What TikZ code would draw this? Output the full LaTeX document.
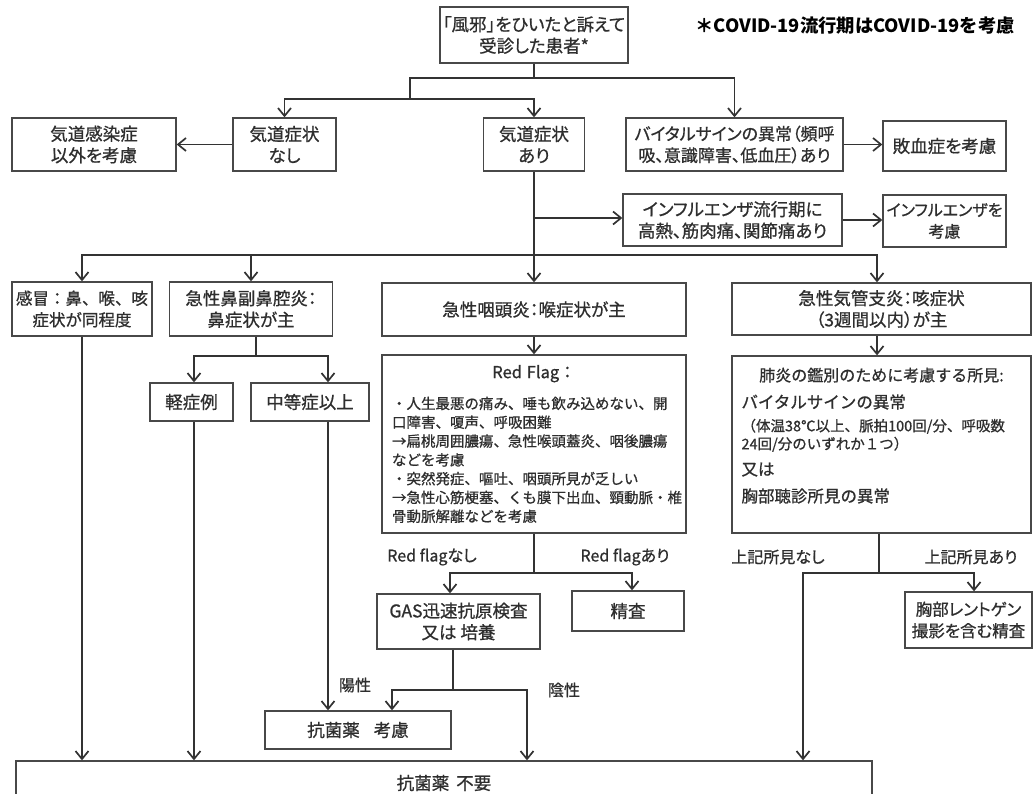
\documentclass[tikz,border=0pt]{standalone}
\usepackage{fontspec}
\setmainfont{Noto Sans CJK JP}[RawFeature=+palt, FakeBold=0.8]
\newfontfamily\jpf{Noto Sans CJK JP}[FakeBold=0.8]
\newfontfamily\notef{Noto Sans CJK JP}
\usetikzlibrary{arrows.meta}
\definecolor{ln}{HTML}{333333}
\definecolor{bd}{HTML}{484848}
\definecolor{tx}{HTML}{2E2E2E}
\tikzset{
  box/.style={draw=bd, line width=1.3pt, fill=white, align=center, inner sep=0pt,
    font=\fontsize{17.5}{21.5}\selectfont, text=tx},
  lbl/.style={font=\fontsize{16}{19}\selectfont, text=tx, inner sep=0pt},
}
\begin{document}
\begin{tikzpicture}[x=1pt, y=-1pt, line width=1.7pt, draw=ln,
  >={Straight Barb[length=8pt,width=13pt]}]
\useasboundingbox[fill=white] (0,0) rectangle (1033,794);

% nodes
\node[box, minimum width=188, minimum height=56] (top) at (534,35) {「風邪」をひいたと訴えて\\受診した患者*};
\node[font=\notef\bfseries\fontsize{18.3}{20}\selectfont, text=black, inner sep=0pt] (note) at (855,26) {＊COVID-19流行期はCOVID-19を考慮};

\node[box, minimum width=164, minimum height=53] (other) at (94,144.5) {気道感染症\\以外を考慮};
\node[box, minimum width=103, minimum height=53] (nashi) at (284.5,144.5) {気道症状\\なし};
\node[box, minimum width=101, minimum height=53] (ari) at (534,144.5) {気道症状\\あり};
\node[box, minimum width=217, minimum height=53, font=\fontsize{17}{21.5}\selectfont] (vital) at (734.5,144.5) {バイタルサインの異常（頻呼\\吸、意識障害、低血圧）あり};
\node[box, minimum width=123, minimum height=50] (sepsis) at (944.5,146) {敗血症を考慮};
\node[box, minimum width=219, minimum height=52] (infl) at (732.5,220) {インフルエンザ流行期に\\高熱、筋肉痛、関節痛あり};
\node[box, minimum width=123, minimum height=52, font=\fontsize{16}{21.5}\selectfont] (inflc) at (944.5,221) {インフルエンザを\\考慮};

\node[box, minimum width=140, minimum height=54, font=\jpf\fontsize{16.5}{21.5}\selectfont] (cold) at (82,309) {感冒：鼻、喉、咳\\症状が同程度};
\node[box, minimum width=163, minimum height=54] (sinus) at (251,309) {急性鼻副鼻腔炎：\\鼻症状が主};
\node[box, minimum width=304, minimum height=53] (pharyn) at (534,309.5) {急性咽頭炎：喉症状が主};
\node[box, minimum width=299, minimum height=52] (bronch) at (881.5,309) {急性気管支炎：咳症状\\（3週間以内）が主};

\node[box, minimum width=83, minimum height=38] (mild) at (191.5,402) {軽症例};
\node[box, minimum width=118, minimum height=38] (mod) at (310,402) {中等症以上};

\node[box, minimum width=304, minimum height=178, align=left, text width=284,
  font=\jpf\fontsize{14.5}{18.8}\selectfont] (redflag) at (534,444)
  {\makebox[284pt]{\fontsize{16.5}{18.5}\selectfont Red Flag：}\\[12pt]
   ・人生最悪の痛み、唾も飲み込めない、開\\
   口障害、嗄声、呼吸困難\\
   →扁桃周囲膿瘍、急性喉頭蓋炎、咽後膿瘍\\
   などを考慮\\
   ・突然発症、嘔吐、咽頭所見が乏しい\\
   →急性心筋梗塞、くも膜下出血、頸動脈・椎\\
   骨動脈解離などを考慮};

\node[box, minimum width=299, minimum height=177, align=left, text width=280,
  font=\jpf\fontsize{16.5}{22}\selectfont] (pneu) at (881.5,444.5)
  {\makebox[280pt]{\fontsize{16}{22}\selectfont 肺炎の鑑別のために考慮する所見:}\\[5pt]
   バイタルサインの異常\\[1pt]
   {\fontsize{14.5}{18}\selectfont （体温38℃以上、脈拍100回/分、呼吸数}\\[-4pt]
   {\fontsize{14.5}{18}\selectfont 24回/分のいずれか１つ）}\\[4pt]
   又は\\[5pt]
   胸部聴診所見の異常\\[-3pt]
   \mbox{}};

\node[box, minimum width=163, minimum height=55] (gas) at (458.5,621.5) {GAS迅速抗原検査\\又は 培養};
\node[box, minimum width=112, minimum height=40] (seisa) at (628,611) {精査};
\node[box, minimum width=127, minimum height=56, font=\fontsize{16.5}{21.5}\selectfont] (xray) at (968.5,620) {胸部レントゲン\\撮影を含む精査};
\node[box, minimum width=186, minimum height=38] (abx) at (358,730) {抗菌薬\hspace{0.8em}考慮};
\node[box, minimum width=856, minimum height=44] (noabx) at (444,783) {抗菌薬\hspace{0.4em}不要};

% labels
\node[lbl] (lrfn) at (432,557) {Red flagなし};
\node[lbl] (lrfa) at (625,557) {Red flagあり};
\node[lbl] (lnone) at (778,557) {上記所見なし};
\node[lbl] (lhas) at (971,557) {上記所見あり};
\node[lbl] (lpos) at (355,685) {陽性};
\node[lbl] (lneg) at (564,690) {陰性};

% connectors
\coordinate (j1) at (534,78);
\coordinate (j2) at (410,99);
\draw (top.south) -- (j1);
\draw (j1) -| (j2);
\draw[->] (j1) -| (vital.north);
\draw[->] (j2) -| (nashi.north);
\draw[->] (j2) -| (ari.north);
\draw[->] (nashi.west) -- (other.east);
\draw[->] (vital.east) -- (vital.east -| sepsis.west);

\coordinate (j3) at (534,255);
\coordinate (j4) at (534,218);
\draw (ari.south) -- (j3);
\draw[->] (j4) -- (j4 -| infl.west);
\draw[->] (infl.east) -- (infl.east -| inflc.west);
\draw[->] (j3) -| (cold.north);
\draw[->] (j3) -| (sinus.north);
\draw[->] (j3) -- (pharyn.north);
\draw[->] (j3) -| ([xshift=-4.5]bronch.north);
\draw[->] (pharyn.south) -- (redflag.north);
\draw[->] ([xshift=-4.5]bronch.south) -- ([xshift=-4.5]pneu.north);

\coordinate (j5) at (256,356);
\draw ([xshift=5]sinus.south) -- (j5);
\draw[->] (j5) -| ([xshift=2.5]mild.north);
\draw[->] (j5) -| ([xshift=18]mod.north);
\draw[->] (cold.south) -- (cold.south |- noabx.north);
\draw[->] ([xshift=2.5]mild.south) -- ([xshift=2.5]mild.south |- noabx.north);
\draw[->] ([xshift=18]mod.south) -- ([xshift=18]mod.south |- abx.north);

\coordinate (j6) at (534,573);
\draw (redflag.south) -- (j6);
\draw[->] (j6) -| ([xshift=-8.5]gas.north);
\draw[->] (j6) -| ([xshift=4]seisa.north);
\coordinate (j7) at (453,690);
\draw ([xshift=-5.5]gas.south) -- (j7);
\draw[->] (j7) -| ([xshift=34]abx.north);
\draw[->] (j7) -| ([xshift=83]noabx.north);

\coordinate (j8) at (879,573);
\draw ([xshift=-2.5]pneu.south) -- (j8);
\draw[->] (j8) -| ([xshift=5.5]xray.north);
\draw[->] (j8) -| ([xshift=359]noabx.north);
\end{tikzpicture}
\end{document}
